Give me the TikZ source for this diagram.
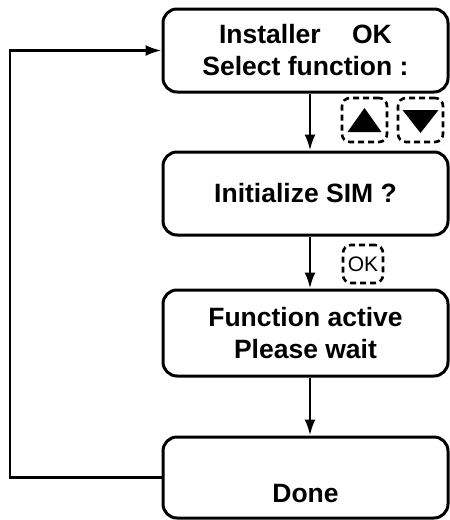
\documentclass[tikz,border=0pt]{standalone}
\usepackage{fontspec}
\setmainfont{Liberation Sans}
\usetikzlibrary{arrows.meta}
\begin{document}
\begin{tikzpicture}[x=1pt,y=-1pt,
  box/.style={draw,line width=3pt,rounded corners=14pt,minimum width=285pt,align=center,
    font=\bfseries\fontsize{26.5}{32}\selectfont,inner sep=0pt},
  keybox/.style={draw,dash pattern=on 6pt off 4pt,line width=2.6pt,rounded corners=8pt,inner sep=0pt},
  arr/.style={line width=2.6pt,-{Latex[length=16pt,width=11pt]}}]
\useasboundingbox (0,0) rectangle (450,520);
\coordinate (ax) at (310,0);
\coordinate (lx) at (10,0);
\node[box,minimum height=83pt] (b1) at (305.5,50.5) {Installer\hspace{24pt} OK\\Select function :};
\node[box,minimum height=83pt] (b2) at (305.5,193.5) {Initialize SIM ?};
\node[box,minimum height=86pt] (b3) at (305.5,333) {Function active\\Please wait};
\node[box,minimum height=81pt] (b4) at (305.5,477.5) {\phantom{D}\\Done};
\node[keybox,minimum width=45pt,minimum height=44pt] (kup) at (364.5,120) {};
\node[keybox,minimum width=45pt,minimum height=44pt] (kdn) at (420.5,120) {};
\fill (kup.center) ++(-17,12) -- ++(34,0) -- ++(-17,-24) -- cycle;
\fill (kdn.center) ++(-18,-10) -- ++(36,0) -- ++(-18,23) -- cycle;
\node[keybox,minimum width=40pt,minimum height=38pt,font=\fontsize{21}{21}\selectfont] (kok) at (363,264) {OK};
\draw[arr] (b1.south -| ax) -- (b2.north -| ax);
\draw[arr] (b2.south -| ax) -- (b3.north -| ax);
\draw[arr] (b3.south -| ax) -- (b4.north -| ax);
\draw[arr] (b4.west) -- (b4.west -| lx) -- (b1.west -| lx) -- (b1.west);
\end{tikzpicture}
\end{document}
